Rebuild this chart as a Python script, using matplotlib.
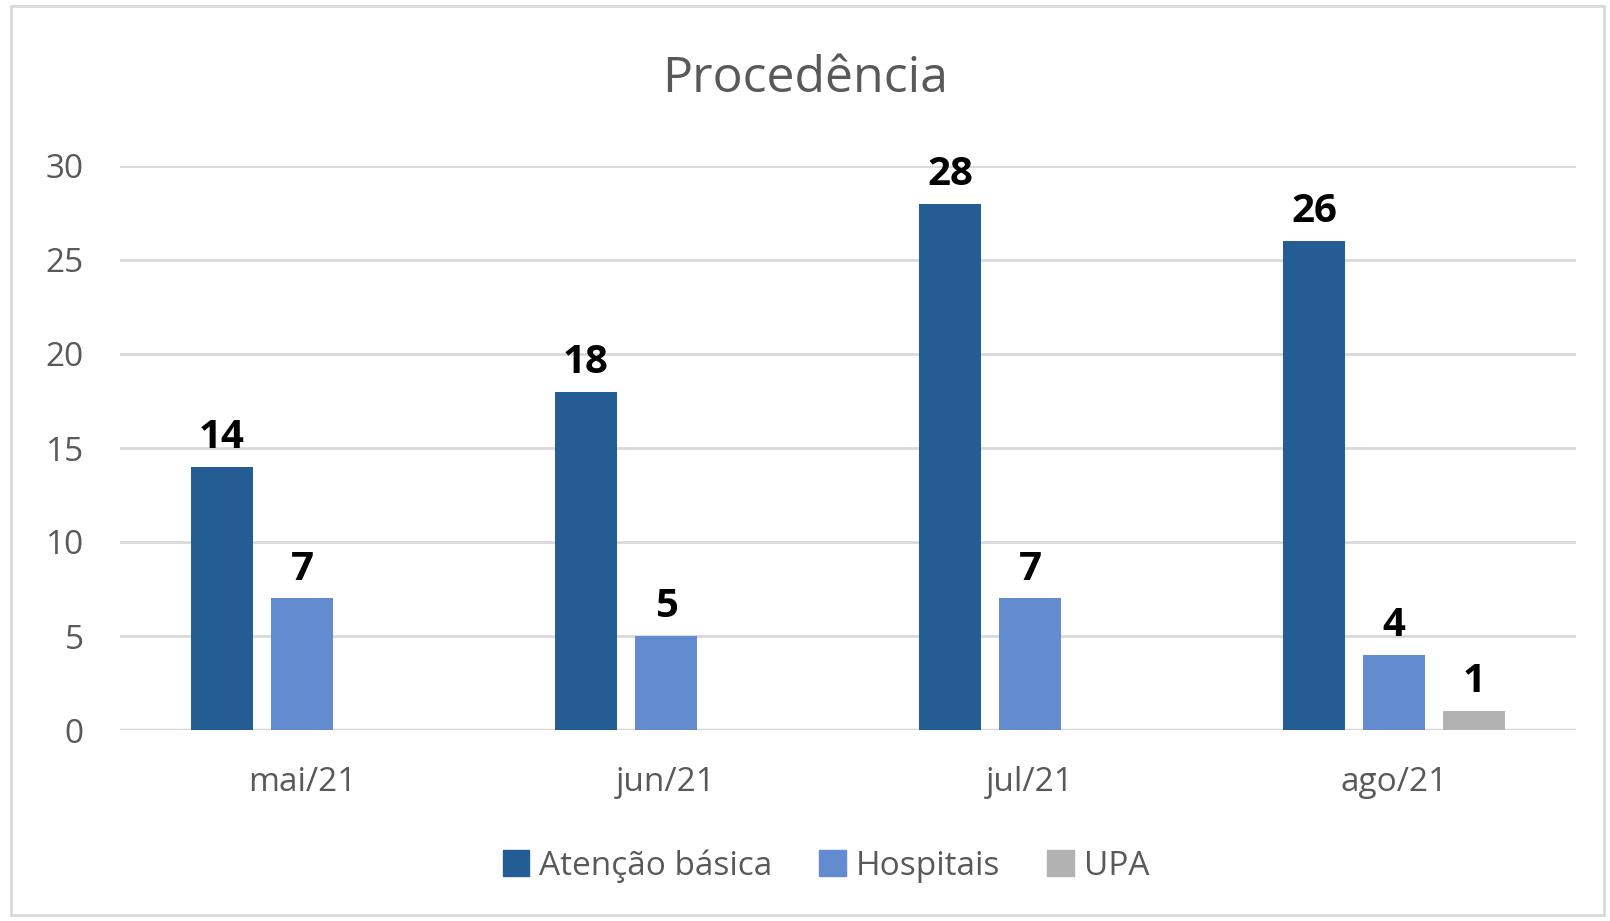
import matplotlib.pyplot as plt
from matplotlib.patches import Rectangle
import numpy as np

meses = ['mai/21', 'jun/21', 'jul/21', 'ago/21']
atencao_basica = [14, 18, 28, 26]
hospitais = [7, 5, 7, 4]
upa = [0, 0, 0, 1]

series_nomes = ['Atenção básica', 'Hospitais', 'UPA']
cores = ['#245D93', '#628BD0', '#B2B2B2']

plt.rcParams['font.family'] = ['Open Sans', 'DejaVu Sans']

fig = plt.figure(figsize=(16.1, 9.21), dpi=100)
fig.patches.append(Rectangle((0.007, 0.006), 0.989, 0.987, transform=fig.transFigure,
                             fill=False, edgecolor='#D9D9D9', linewidth=2))

ax = fig.add_axes([120 / 1610, 1 - 730 / 921, (1576 - 120) / 1610, (730 - 166) / 921])

x = np.arange(len(meses))
largura = 0.172
passo = 0.22
valores = [atencao_basica, hospitais, upa]

for i, (vals, nome, cor) in enumerate(zip(valores, series_nomes, cores)):
    pos = x + (i - 1) * passo
    barras = ax.bar(pos, vals, width=largura, color=cor, label=nome, zorder=3)
    for b, v in zip(barras, vals):
        if v > 0:
            ax.annotate(str(v), (b.get_x() + b.get_width() / 2, v), xytext=(0, 7),
                        textcoords='offset points', ha='center', va='bottom',
                        fontsize=29, fontweight='bold', color='black')

ax.set_xlim(-0.5, 3.5)
ax.set_ylim(0, 30)
ax.set_yticks(range(0, 31, 5))
ax.set_xticks(x)
ax.set_xticklabels(meses)
ax.grid(axis='y', color='#D9D9D9', linewidth=2, zorder=0)
for s in ['top', 'right', 'left', 'bottom']:
    ax.spines[s].set_visible(False)
ax.axhline(0, color='#D9D9D9', linewidth=2.5, zorder=2)
ax.tick_params(axis='both', length=0, labelsize=24, colors='#595959')
ax.tick_params(axis='y', pad=26)
ax.tick_params(axis='x', pad=26)

fig.text(0.5, 1 - 79 / 921, 'Procedência', ha='center', va='center',
         fontsize=36, color='#595959')

handles = [Rectangle((0, 0), 1, 1, color=c) for c in cores]
fig.legend(handles, series_nomes, loc='center', bbox_to_anchor=(826 / 1610, 1 - 866 / 921),
           ncol=3, frameon=False, fontsize=24, labelcolor='#595959',
           handlelength=0.8, handleheight=0.8, handletextpad=0.3, columnspacing=1.4)

plt.savefig('out.png', dpi=100)
